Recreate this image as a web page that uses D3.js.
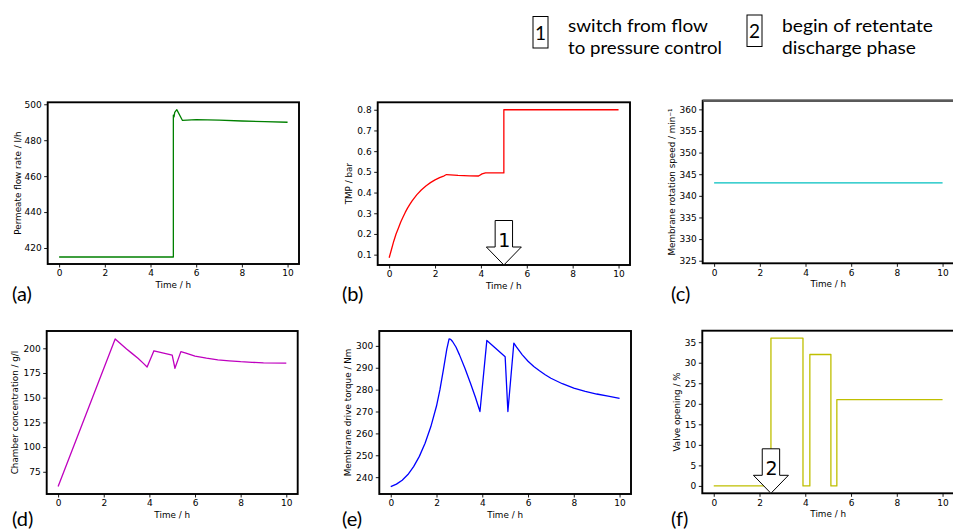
<!DOCTYPE html>
<html>
<head>
<meta charset="utf-8">
<script src="https://cdn.jsdelivr.net/npm/d3@7"></script>
<style>
  body { margin: 0; background: #fff; }
  svg { display: block; }
  text { font-family: "DejaVu Sans", sans-serif; fill: #000; }
  .note { font-family: Lato, "Open Sans", sans-serif; }
</style>
</head>
<body>
<svg id="chart" width="953" height="532"></svg>
<script>
// shared time axis
const timeTicks = [0, 2, 4, 6, 8, 10];

// (a) permeate flow rate, l/h
const flowTime  = [0, 5.0, 5.0, 5.03, 5.06, 5.15, 5.4, 6.0, 7.0, 8.0, 9.0, 10];
const flowValue = [415, 415, 494, 493, 495.5, 497, 491, 491.5, 491.2, 490.7, 490.3, 490];
const flowTicks = [420, 440, 460, 480, 500];

// (b) TMP, bar
const tmpTime  = [0, 0.1, 0.2, 0.3, 0.4, 0.5, 0.6, 0.7, 0.8, 0.9, 1.0, 1.2, 1.4, 1.6, 1.8, 2.0, 2.2, 2.4, 2.5,
                  3.0, 3.5, 3.9, 4.05, 4.2, 5.0, 5.0, 10];
const tmpValue = [0.085, 0.125, 0.165, 0.2, 0.228, 0.256, 0.281, 0.304, 0.325, 0.343, 0.36, 0.389, 0.412, 0.432,
                  0.448, 0.461, 0.472, 0.481, 0.487, 0.483, 0.481, 0.48, 0.49, 0.495, 0.495, 0.8, 0.8];
const tmpTicks = [0.1, 0.2, 0.3, 0.4, 0.5, 0.6, 0.7, 0.8];

// (c) membrane rotation speed, 1/min
const speedTime  = [0, 10];
const speedValue = [343, 343];
const speedTicks = [325, 330, 335, 340, 345, 350, 355, 360];

// (d) chamber concentration, g/l
const concTime  = [0, 2.5, 2.75, 3.0, 3.25, 3.5, 3.75, 3.9, 4.2, 5.0, 5.12, 5.38, 5.6, 6.0, 6.5, 7.0, 7.5, 8.0, 8.5, 9.0, 10];
const concValue = [60, 209.5, 204.3, 199.3, 194.6, 190, 184.5, 181, 197.5, 193, 179.8, 196.6, 195, 192, 190, 188.3,
                   187.3, 186.4, 185.8, 185.3, 185];
const concTicks = [75, 100, 125, 150, 175, 200];

// (e) membrane drive torque, Nm
const torqueTime  = [0, 0.25, 0.5, 0.75, 1.0, 1.25, 1.5, 1.75, 2.0, 2.15, 2.3, 2.45, 2.55, 2.62, 2.7, 2.85, 3.0, 3.25,
                     3.5, 3.7, 3.9, 4.2, 5.0, 5.12, 5.38, 5.5, 5.75, 6.0, 6.25, 6.5, 6.75, 7.0, 7.5, 8.0, 8.5, 9.0, 9.5, 10];
const torqueValue = [235.7, 236.8, 238.6, 241.2, 244.8, 249.5, 255.5, 263, 272.5, 280, 289, 298.5, 303.2, 303, 302, 299.5,
                     296, 289.5, 282.5, 276.5, 270, 302.5, 295, 270, 301.3, 299.4, 295.9, 293, 290.6, 288.6, 286.8,
                     285.2, 282.7, 280.7, 279.2, 278, 277, 276];
const torqueTicks = [240, 250, 260, 270, 280, 290, 300];

// (f) valve opening, % (step after each time)
const valveTime  = [0, 2.5, 3.9, 4.2, 5.12, 5.38, 10];
const valveValue = [0, 36, 0, 32, 0, 21, 21];
const valveTicks = [0, 5, 10, 15, 20, 25, 30, 35];

const panels = [
  { tag: "(a)", t: flowTime, v: flowValue, ticks: flowTicks, yDom: [411.1, 501.1], color: "#008000",
    label: "Permeate flow rate / l/h", fmt: "d",
    left: 47.7, right: 299, top: 102.3, bottom: 264, ylabX: 18.3, tagX: 12, tagY: 301 },
  { tag: "(b)", t: tmpTime, v: tmpValue, ticks: tmpTicks, yDom: [0.05, 0.836], color: "#ff0000",
    label: "TMP / bar", fmt: ".1f",
    left: 377.7, right: 630, top: 102.3, bottom: 265, ylabX: 349.3, tagX: 342, tagY: 301 },
  { tag: "(c)", t: speedTime, v: speedValue, ticks: speedTicks, yDom: [324.4, 362], color: "#00bfbf",
    label: "Membrane rotation speed / min\u207B\u00B9", fmt: "d",
    left: 702.7, right: 954, top: 100.7, bottom: 263.3, ylabX: 671.7, tagX: 671, tagY: 301, greyTop: true },
  { tag: "(d)", t: concTime, v: concValue, ticks: concTicks, yDom: [52.5, 217.5], color: "#bf00bf",
    label: "Chamber concentration / g/l", fmt: "d",
    left: 46.7, right: 297.7, top: 331, bottom: 494, ylabX: 15, tagX: 12, tagY: 526 },
  { tag: "(e)", t: torqueTime, v: torqueValue, ticks: torqueTicks, yDom: [232.3, 306.8], color: "#0000ff",
    label: "Membrane drive torque / Nm", fmt: "d",
    left: 379.3, right: 631, top: 331, bottom: 494, ylabX: 347.7, tagX: 342, tagY: 526 },
  { tag: "(f)", t: valveTime, v: valveValue, ticks: valveTicks, yDom: [-1.8, 37.8], color: "#bfbf00",
    label: "Valve opening / %", fmt: "d", step: true,
    left: 702.3, right: 954, top: 330.7, bottom: 493.3, ylabX: 677.3, tagX: 671, tagY: 526 }
];

const svg = d3.select("#chart");
const scales = {};

panels.forEach(p => {
  const x = d3.scaleLinear().domain([-0.5, 10.5]).range([p.left, p.right]);
  const y = d3.scaleLinear().domain(p.yDom).range([p.bottom, p.top]);
  scales[p.tag] = { x, y };
  const g = svg.append("g");

  const pts = p.t.map((t, i) => [t, p.v[i]]);
  const line = d3.line()
    .x(d => x(d[0]))
    .y(d => y(d[1]))
    .curve(p.step ? d3.curveStepAfter : d3.curveLinear);

  g.append("path")
    .datum(pts)
    .attr("d", line)
    .attr("fill", "none")
    .attr("stroke", p.color)
    .attr("stroke-width", 1.3)
    .attr("stroke-linejoin", "round");

  // axes
  const xAxis = g.append("g")
    .attr("transform", `translate(0,${p.bottom})`)
    .call(d3.axisBottom(x).tickValues(timeTicks).tickSize(3.5).tickPadding(2.5).tickFormat(d3.format("d")));
  const yAxis = g.append("g")
    .attr("transform", `translate(${p.left},0)`)
    .call(d3.axisLeft(y).tickValues(p.ticks).tickSize(3.5).tickPadding(2.5).tickFormat(d3.format(p.fmt)));
  [xAxis, yAxis].forEach(a => {
    a.select(".domain").remove();
    a.selectAll("line").attr("stroke", "#000").attr("stroke-width", 0.9);
    a.selectAll("text").attr("font-size", 9).attr("font-family", "DejaVu Sans").attr("fill", "#111");
  });

  // frame
  g.append("rect")
    .attr("x", p.left).attr("y", p.top)
    .attr("width", p.right - p.left).attr("height", p.bottom - p.top)
    .attr("fill", "none").attr("stroke", "#000").attr("stroke-width", 1.9);
  if (p.greyTop) {
    g.append("line")
      .attr("x1", p.left).attr("x2", p.right).attr("y1", p.top).attr("y2", p.top)
      .attr("stroke", "#5a5a5a").attr("stroke-width", 2.2);
  }

  // axis labels
  g.append("text")
    .attr("x", (p.left + p.right) / 2)
    .attr("y", p.bottom + 24)
    .attr("text-anchor", "middle")
    .attr("font-size", 8.8)
    .attr("fill", "#111")
    .text("Time / h");
  const cy = (p.top + p.bottom) / 2;
  g.append("text")
    .attr("transform", `translate(${p.ylabX},${cy}) rotate(-90)`)
    .attr("dy", "0.35em")
    .attr("text-anchor", "middle")
    .attr("font-size", 8.8)
    .attr("fill", "#111")
    .text(p.label);

  // panel tag
  g.append("text")
    .attr("class", "note")
    .attr("x", p.tagX).attr("y", p.tagY)
    .attr("font-size", 20)
    .text(p.tag);
});

// event arrows: (1) in TMP panel at t = 5, (2) in valve panel at t = 2.5
const arrowMarks = [
  { tag: "(b)", t: 5.0, num: "1" },
  { tag: "(f)", t: 2.5, num: "2" }
];
arrowMarks.forEach(a => {
  const s = scales[a.tag];
  const p = panels.find(q => q.tag === a.tag);
  const tx = s.x(a.t), ty = p.bottom;
  const shaft = 8.7, head = 17.5, headH = 18, total = 44.5;
  const poly = [
    [tx - shaft, ty - total], [tx + shaft, ty - total], [tx + shaft, ty - headH],
    [tx + head, ty - headH], [tx, ty], [tx - head, ty - headH], [tx - shaft, ty - headH]
  ];
  svg.append("polygon")
    .attr("points", poly.map(d => d.join(",")).join(" "))
    .attr("fill", "#fff").attr("stroke", "#000").attr("stroke-width", 1);
  svg.append("text")
    .attr("x", tx + 0.5).attr("y", ty - 18.5)
    .attr("text-anchor", "middle")
    .attr("font-size", 19)
    .text(a.num);
});

// legend notes at top
const notes = [
  { num: "1", lines: ["switch from flow", "to pressure control"], widths: [140, 154], boxX: 533, boxY: 16.5, textX: 568 },
  { num: "2", lines: ["begin of retentate", "discharge phase"], widths: [151, 134], boxX: 747, boxY: 15, textX: 782 }
];
notes.forEach(n => {
  svg.append("rect")
    .attr("x", n.boxX).attr("y", n.boxY).attr("width", 15).attr("height", 31.5)
    .attr("fill", "#fff").attr("stroke", "#000").attr("stroke-width", 1);
  svg.append("text")
    .attr("class", "note")
    .attr("x", n.boxX + 7.5).attr("y", n.boxY + 23)
    .attr("text-anchor", "middle")
    .attr("font-size", 19)
    .text(n.num);
  n.lines.forEach((l, i) => {
    svg.append("text")
      .attr("class", "note")
      .attr("x", n.textX).attr("y", 31.7 + i * 22.5)
      .attr("font-size", 18)
      .attr("textLength", n.widths[i])
      .attr("lengthAdjust", "spacingAndGlyphs")
      .text(l);
  });
});
</script>
</body>
</html>
